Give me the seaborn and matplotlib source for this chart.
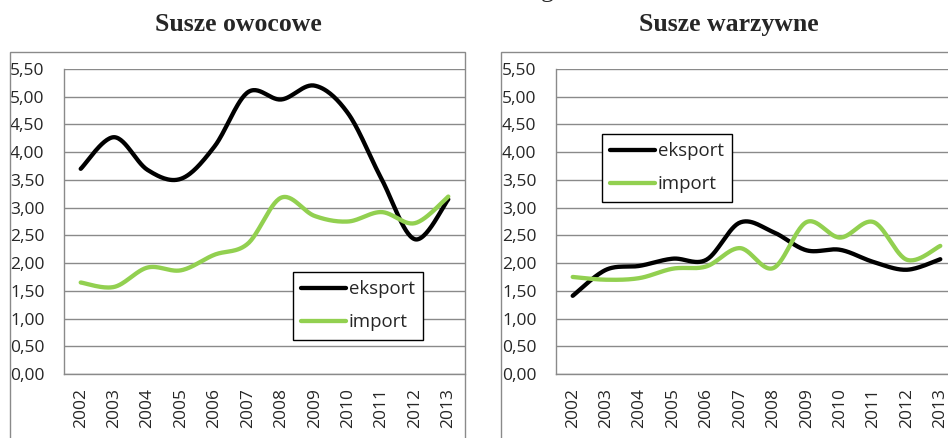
import numpy as np
import pandas as pd
import seaborn as sns
import matplotlib.pyplot as plt
from matplotlib.patches import Rectangle

# dane
lata = ['2002', '2003', '2004', '2005', '2006', '2007',
        '2008', '2009', '2010', '2011', '2012', '2013']
owoce_eksport = [3.70, 4.27, 3.68, 3.52, 4.10, 5.08, 4.95, 5.20, 4.70, 3.52, 2.43, 3.15]
owoce_import = [1.65, 1.57, 1.92, 1.87, 2.15, 2.35, 3.18, 2.85, 2.75, 2.92, 2.72, 3.20]
warzywa_eksport = [1.41, 1.88, 1.95, 2.08, 2.06, 2.73, 2.56, 2.23, 2.24, 2.02, 1.88, 2.07]
warzywa_import = [1.75, 1.70, 1.73, 1.90, 1.94, 2.27, 1.91, 2.74, 2.46, 2.74, 2.06, 2.31]
y_ticks = [0.0, 0.5, 1.0, 1.5, 2.0, 2.5, 3.0, 3.5, 4.0, 4.5, 5.0, 5.5]

sns.set_style('white')
plt.rcParams['font.family'] = ['Open Sans', 'DejaVu Sans']

W, H = 948, 438
GRAY = '#8a8a8a'
GREEN = '#92d050'


def wygladz(vals, n=30):
    # krzywa Beziera jak "wygładzona linia" w Excelu
    p = np.column_stack([np.arange(len(vals)), np.array(vals, dtype=float)])
    ext = np.vstack([p[0], p, p[-1]])
    out = []
    for i in range(len(p) - 1):
        p0, p1, p2, p3 = ext[i], ext[i + 1], ext[i + 2], ext[i + 3]
        c1 = p1 + (p2 - p0) / 6
        c2 = p2 - (p3 - p1) / 6
        t = np.linspace(0, 1, n, endpoint=(i == len(p) - 2))[:, None]
        seg = ((1 - t) ** 3) * p1 + 3 * ((1 - t) ** 2) * t * c1 + 3 * (1 - t) * t ** 2 * c2 + t ** 3 * p2
        out.append(seg)
    out = np.vstack(out)
    return pd.DataFrame({'x': out[:, 0], 'y': out[:, 1]})


fig = plt.figure(figsize=(W / 100, H / 100), dpi=100)

# ramki obszarów wykresu
fig.add_artist(Rectangle((10 / W, -0.1), 455 / W, 1.1 - 52 / H,
                         transform=fig.transFigure, fill=False, ec=GRAY, lw=1))
fig.add_artist(Rectangle((501 / W, -0.1), 0.6, 1.1 - 52 / H,
                         transform=fig.transFigure, fill=False, ec=GRAY, lw=1))

panele = [
    (64, 'Susze owocowe', 238, owoce_eksport, owoce_import, (293, 272)),
    (556, 'Susze warzywne', 729, warzywa_eksport, warzywa_import, (602, 134)),
]

for x0, tytul, tx, eks, imp, leg_pos in panele:
    ax = fig.add_axes([x0 / W, (H - 374) / H, 401 / W, 305 / H])
    sns.lineplot(data=wygladz(eks), x='x', y='y', sort=False, ax=ax,
                 color='black', lw=3.1, label='eksport', estimator=None)
    sns.lineplot(data=wygladz(imp), x='x', y='y', sort=False, ax=ax,
                 color=GREEN, lw=3.1, label='import', estimator=None)

    ax.set_xlim(-0.5, 11.5)
    ax.set_ylim(0, 5.5)
    ax.set_xlabel('')
    ax.set_ylabel('')
    ax.set_yticks(y_ticks)
    ax.set_yticklabels([f'{v:.2f}'.replace('.', ',') for v in y_ticks], fontsize=12.5)
    ax.set_xticks(range(len(lata)))
    ax.set_xticklabels(lata, rotation=90, fontsize=12.5)
    ax.set_xticks(np.arange(-0.5, 12, 1), minor=True)
    ax.tick_params(axis='x', which='major', length=0, pad=10)
    ax.tick_params(axis='x', which='minor', length=5, color=GRAY, width=1)
    ax.tick_params(axis='y', length=5, color=GRAY, width=1, pad=9)
    ax.grid(axis='y', color=GRAY, lw=1)
    ax.set_axisbelow(True)
    for s in ['top', 'right']:
        ax.spines[s].set_visible(False)
    for s in ['left', 'bottom']:
        ax.spines[s].set_color(GRAY)
        ax.spines[s].set_linewidth(1)

    leg = ax.legend(loc='upper left', bbox_to_anchor=(leg_pos[0] / W, 1 - leg_pos[1] / H),
                    bbox_transform=fig.transFigure, borderaxespad=0, fontsize=13.4,
                    frameon=True, fancybox=False, framealpha=1, edgecolor='black',
                    handlelength=2.4, handletextpad=0.15, labelspacing=0.8,
                    borderpad=0.45)
    leg.get_frame().set_linewidth(1)

    fig.text(tx / W, 1 - 31 / H, tytul, ha='center', va='baseline',
             family='Liberation Serif', weight='bold', fontsize=18.5)

# ucięty fragment podpisu nad wykresem
fig.text(547 / W, 1 + 3 / H, 'g', ha='center', va='baseline',
         family='Liberation Serif', fontsize=18.5)

fig.savefig('out.png', dpi=100)
